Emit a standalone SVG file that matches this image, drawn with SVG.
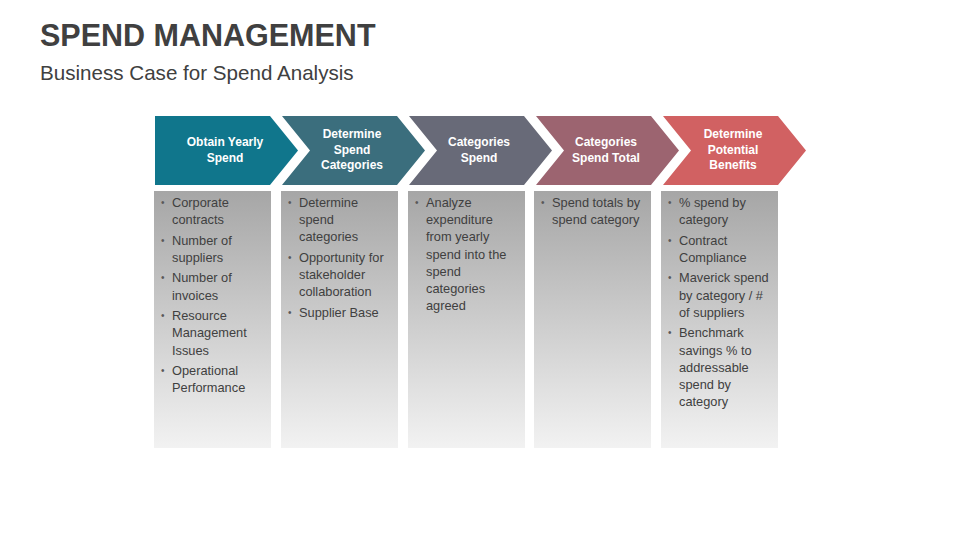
<svg xmlns="http://www.w3.org/2000/svg" width="960" height="540" viewBox="0 0 960 540">
<defs>
<linearGradient id="boxGrad" x1="0" y1="0" x2="0" y2="1">
<stop offset="0" stop-color="#a6a6a6"/>
<stop offset="1" stop-color="#f2f2f2"/>
</linearGradient>
</defs>
<style>
.title{font-family:"Liberation Sans",Arial,sans-serif;font-weight:bold;font-size:30.5px;fill:#404040}
.sub{font-family:"Liberation Sans",Arial,sans-serif;font-size:20.6px;fill:#404040}
.head{font-family:"Liberation Sans",Arial,sans-serif;font-weight:bold;font-size:12px;fill:#ffffff;text-anchor:middle}
.body{font-family:"Liberation Sans",Arial,sans-serif;font-size:12.8px;fill:#404040}
.bul{font-family:"Liberation Sans",Arial,sans-serif;font-size:10px;fill:#595959}
.box{fill:url(#boxGrad)}
</style>
<rect width="960" height="540" fill="#ffffff"/>
<text class="title" x="40" y="46">SPEND MANAGEMENT</text>
<text class="sub" x="40" y="80">Business Case for Spend Analysis</text>

<g id="connectors"/>

<g id="step1">
<path d="M155,116 H270 L298,150.5 L270,185 H155 Z" fill="#10768c"/>
<text class="head"><tspan x="225" y="146">Obtain Yearly</tspan><tspan x="225" y="161.5">Spend</tspan></text>
<rect class="box" x="154" y="191" width="117" height="257"/>
<text class="bul"><tspan x="161" y="206">•</tspan><tspan x="161" y="243.7">•</tspan><tspan x="161" y="281.4">•</tspan><tspan x="161" y="319.1">•</tspan><tspan x="161" y="374">•</tspan></text>
<text class="body"><tspan x="172" y="207">Corporate</tspan><tspan x="172" y="224.2">contracts</tspan><tspan x="172" y="244.7">Number of</tspan><tspan x="172" y="261.9">suppliers</tspan><tspan x="172" y="282.4">Number of</tspan><tspan x="172" y="299.6">invoices</tspan><tspan x="172" y="320.1">Resource</tspan><tspan x="172" y="337.3">Management</tspan><tspan x="172" y="354.5">Issues</tspan><tspan x="172" y="375">Operational</tspan><tspan x="172" y="392.2">Performance</tspan></text>
</g>

<g id="step2">
<path d="M282,116 H397 L425,150.5 L397,185 H282 L310,150.5 Z" fill="#3b6e7d"/>
<text class="head"><tspan x="352" y="138">Determine</tspan><tspan x="352" y="153.5">Spend</tspan><tspan x="352" y="169">Categories</tspan></text>
<rect class="box" x="281" y="191" width="117" height="257"/>
<text class="bul"><tspan x="288" y="206">•</tspan><tspan x="288" y="261">•</tspan><tspan x="288" y="315.9">•</tspan></text>
<text class="body"><tspan x="299" y="207">Determine</tspan><tspan x="299" y="224.2">spend</tspan><tspan x="299" y="241.4">categories</tspan><tspan x="299" y="262">Opportunity for</tspan><tspan x="299" y="279.2">stakeholder</tspan><tspan x="299" y="296.4">collaboration</tspan><tspan x="299" y="316.9">Supplier Base</tspan></text>
</g>

<g id="step3">
<path d="M409,116 H524 L552,150.5 L524,185 H409 L437,150.5 Z" fill="#686a78"/>
<text class="head"><tspan x="479" y="146">Categories</tspan><tspan x="479" y="161.5">Spend</tspan></text>
<rect class="box" x="408" y="191" width="117" height="257"/>
<text class="bul"><tspan x="415" y="206">•</tspan></text>
<text class="body"><tspan x="426" y="207">Analyze</tspan><tspan x="426" y="224.2">expenditure</tspan><tspan x="426" y="241.4">from yearly</tspan><tspan x="426" y="258.6">spend into the</tspan><tspan x="426" y="275.8">spend</tspan><tspan x="426" y="293">categories</tspan><tspan x="426" y="310.2">agreed</tspan></text>
</g>

<g id="step4">
<path d="M536,116 H651 L679,150.5 L651,185 H536 L564,150.5 Z" fill="#9c6470"/>
<text class="head"><tspan x="606" y="146">Categories</tspan><tspan x="606" y="161.5">Spend Total</tspan></text>
<rect class="box" x="534" y="191" width="117" height="257"/>
<text class="bul"><tspan x="541" y="206">•</tspan></text>
<text class="body"><tspan x="552" y="207">Spend totals by</tspan><tspan x="552" y="224.2">spend category</tspan></text>
</g>

<g id="step5">
<path d="M663,116 H778 L806,150.5 L778,185 H663 L691,150.5 Z" fill="#d16162"/>
<text class="head"><tspan x="733" y="138">Determine</tspan><tspan x="733" y="153.5">Potential</tspan><tspan x="733" y="169">Benefits</tspan></text>
<rect class="box" x="661" y="191" width="117" height="257"/>
<text class="bul"><tspan x="668" y="206">•</tspan><tspan x="668" y="243.7">•</tspan><tspan x="668" y="281.4">•</tspan><tspan x="668" y="336.3">•</tspan></text>
<text class="body"><tspan x="679" y="207">% spend by</tspan><tspan x="679" y="224.2">category</tspan><tspan x="679" y="244.7">Contract</tspan><tspan x="679" y="261.9">Compliance</tspan><tspan x="679" y="282.4">Maverick spend</tspan><tspan x="679" y="299.6">by category / #</tspan><tspan x="679" y="316.8">of suppliers</tspan><tspan x="679" y="337.3">Benchmark</tspan><tspan x="679" y="354.5">savings % to</tspan><tspan x="679" y="371.7">addressable</tspan><tspan x="679" y="388.9">spend by</tspan><tspan x="679" y="406.1">category</tspan></text>
</g>
</svg>
